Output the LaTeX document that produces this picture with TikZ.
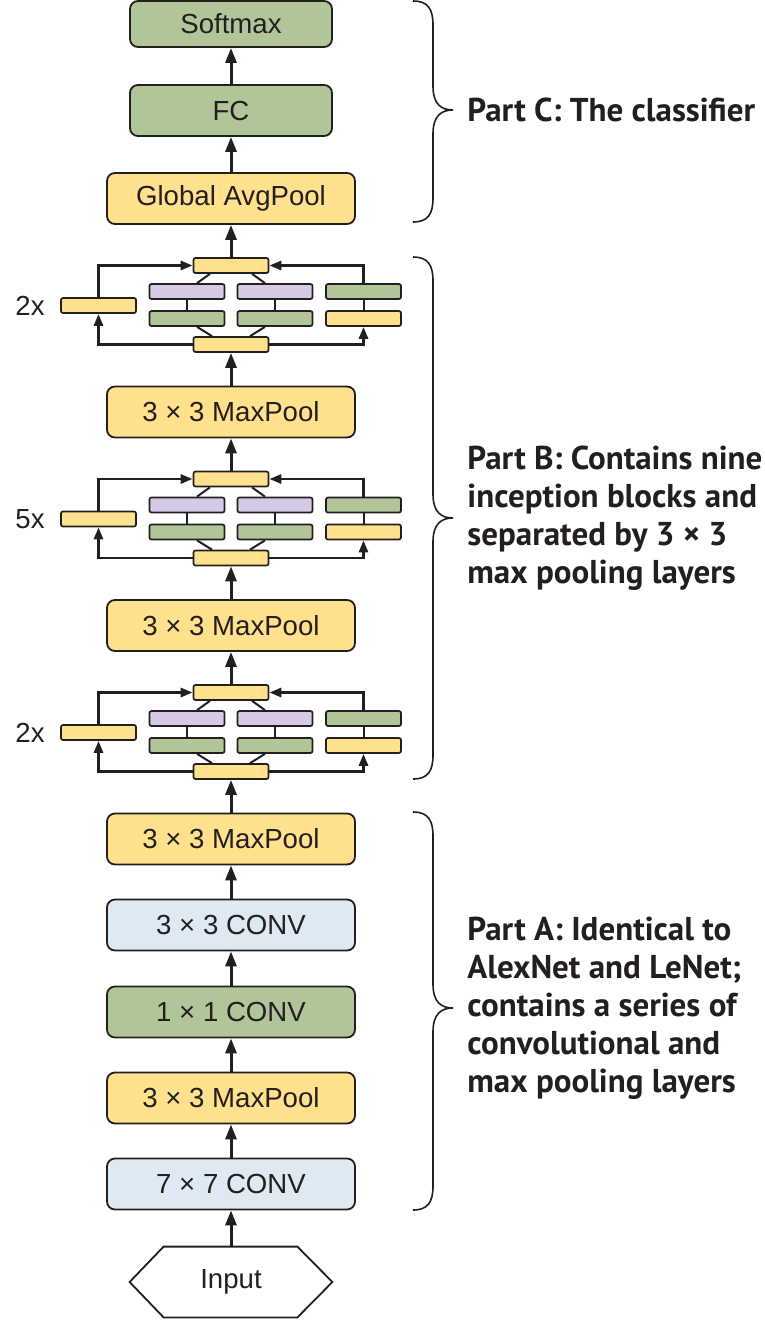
\documentclass[tikz,border=0pt]{standalone}
\usepackage{fontspec}
\setmainfont{Liberation Sans}
\newfontfamily\partfont{PT Sans}
\usetikzlibrary{arrows.meta,calc}
\definecolor{yel}{RGB}{255,224,140}
\definecolor{grn}{RGB}{176,197,152}
\definecolor{blu}{RGB}{222,233,243}
\definecolor{pur}{RGB}{214,201,228}
\definecolor{ink}{RGB}{35,31,32}
\newcommand\mybrace[3]{%
  \draw[brace] (413,#1) .. controls (428,#1) and (433,{#1+8}) .. (433,{#1+24})
    -- (433,{#2-24}) .. controls (433,{#2-6}) and (441,#2) .. (453,#2)
    .. controls (441,#2) and (433,{#2+6}) .. (433,{#2+24})
    -- (433,{#3-24}) .. controls (433,{#3-8}) and (428,#3) .. (413,#3);}
\begin{document}
\begin{tikzpicture}[x=0.5pt,y=-0.5pt,
  box/.style={draw=ink, line width=0.9pt, rounded corners=4pt, minimum width=124pt,
    minimum height=25.5pt, inner sep=0pt, font=\fontsize{13.8}{16}\selectfont, text=ink},
  nbox/.style={box, minimum width=101pt},
  sbox/.style={draw=ink, line width=0.85pt, rounded corners=1pt, minimum width=37.5pt,
    minimum height=7.5pt, inner sep=0pt},
  arr/.style={draw=ink, line width=1.5pt, -{Triangle[length=7.5pt,width=5.5pt]}},
  sarr/.style={draw=ink, line width=1.4pt, -{Triangle[length=6pt,width=4.5pt]}},
  thinl/.style={draw=ink, line width=1pt},
  brace/.style={draw=ink, line width=0.8pt},
  part/.style={font=\partfont\bfseries\fontsize{16.5}{19}\selectfont, align=left,
    anchor=west, text=ink, inner sep=0pt},
  rep/.style={font=\fontsize{13.8}{16}\selectfont, text=ink, inner sep=0pt},
]
\useasboundingbox (0,0) rectangle (765,1329);

% main stack
\node[nbox,fill=grn,minimum height=23pt] (sm) at (231,24) {Softmax};
\node[nbox,fill=grn] (fc) at (231,110.5) {FC};
\node[box,fill=yel] (gap) at (231,198.5) {Global AvgPool};
\node[box,fill=yel] (mp1) at (231,412) {3 × 3 MaxPool};
\node[box,fill=yel] (mp2) at (231,625.5) {3 × 3 MaxPool};
\node[box,fill=yel] (mp3) at (231,839) {3 × 3 MaxPool};
\node[box,fill=blu] (c3) at (231,925) {3 × 3 CONV};
\node[box,fill=grn] (c1) at (231,1012) {1 × 1 CONV};
\node[box,fill=yel] (mp4) at (231,1098) {3 × 3 MaxPool};
\node[box,fill=blu] (c7) at (231,1184) {7 × 7 CONV};
\node[minimum width=101pt, minimum height=35pt, inner sep=0pt,
  font=\fontsize{13.8}{16}\selectfont, text=ink] (in) at (231,1282) {Input};
\draw[ink, line width=0.9pt] (in.west) -- ($(in.north west)+(34,0)$)
  -- ($(in.north east)+(-35,0)$) -- (in.east) -- ($(in.south east)+(-35,0)$)
  -- ($(in.south west)+(34,0)$) -- cycle;

% inception blocks
\foreach \i/\dy/\r in {1/0/2x,2/213.5/5x,3/427/2x}{
  \node[sbox,fill=yel] (tc\i) at (231,{265.5+\dy}) {};
  \node[sbox,fill=yel] (bc\i) at (231,{344.5+\dy}) {};
  \node[sbox,fill=yel] (lb\i) at (98.5,{305.5+\dy}) {};
  \node[sbox,fill=pur] (ua\i) at (187,{291.5+\dy}) {};
  \node[sbox,fill=pur] (ub\i) at (275,{291.5+\dy}) {};
  \node[sbox,fill=grn] (uc\i) at (363.5,{291.5+\dy}) {};
  \node[sbox,fill=grn] (da\i) at (187,{318.5+\dy}) {};
  \node[sbox,fill=grn] (db\i) at (275,{318.5+\dy}) {};
  \node[sbox,fill=yel] (dc\i) at (363.5,{318.5+\dy}) {};
  \node[rep] (rp\i) at (30,{305.5+\dy}) {\r};
  \draw[sarr] (bc\i.west) -| (lb\i.south);
  \draw[sarr] (lb\i.north) |- (tc\i.west);
  \draw[sarr] (bc\i.east) -| (dc\i.south);
  \draw[sarr] (uc\i.north) |- (tc\i.east);
  \draw[thinl] (ua\i) -- (da\i);
  \draw[thinl] (ub\i) -- (db\i);
  \draw[thinl] (uc\i) -- (dc\i);
  \draw[thinl] ($(tc\i.south)+(-21,0)$) -- ($(ua\i.north)+(10,0)$);
  \draw[thinl] ($(tc\i.south)+(21,0)$) -- ($(ub\i.north)+(-10,0)$);
  \draw[thinl] ($(da\i.south)+(10,0)$) -- ($(bc\i.north)+(-19,0)$);
  \draw[thinl] ($(db\i.south)+(-10,0)$) -- ($(bc\i.north)+(19,0)$);
}

% main arrows
\draw[arr] (fc) -- (sm);
\draw[arr] (gap) -- (fc);
\draw[arr] (tc1) -- (gap);
\draw[arr] (mp1) -- (bc1);
\draw[arr] (tc2) -- (mp1);
\draw[arr] (mp2) -- (bc2);
\draw[arr] (tc3) -- (mp2);
\draw[arr] (mp3) -- (bc3);
\draw[arr] (c3) -- (mp3);
\draw[arr] (c1) -- (c3);
\draw[arr] (mp4) -- (c1);
\draw[arr] (c7) -- (mp4);
\draw[arr] (in) -- (c7);

% braces and labels
\mybrace{1}{110}{222}
\mybrace{257}{518}{779}
\mybrace{812}{1008}{1210}
\node[part] (pc) at (467,110) {Part C: The classifier};
\node[part] (pb) at (467,518) {Part B: Contains nine\\inception blocks and\\separated by 3 × 3\\max pooling layers};
\node[part] (pa) at (467,1008) {Part A: Identical to\\AlexNet and LeNet;\\contains a series of\\convolutional and\\max pooling layers};
\end{tikzpicture}
\end{document}
